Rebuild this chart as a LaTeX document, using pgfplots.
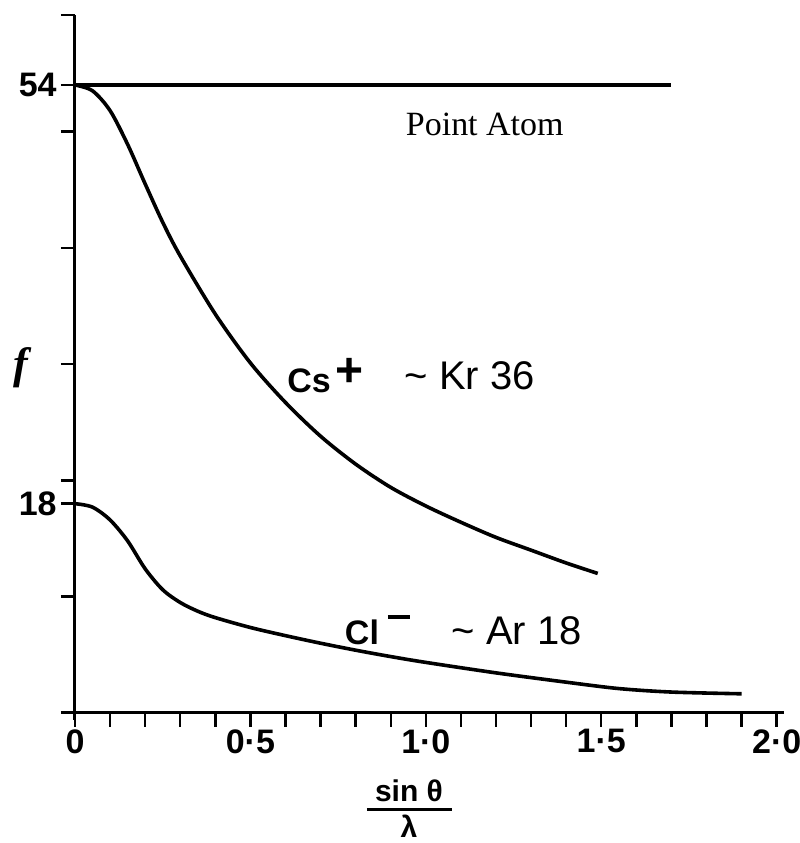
\documentclass[border=0pt]{standalone}
\usepackage{fontspec}
\setmainfont{Liberation Sans}
\newfontfamily\timesfont{Liberation Serif}
\usepackage{pgfplots}
\pgfplotsset{compat=1.18}

\begin{document}
\begin{tikzpicture}
\begin{axis}[
    scale only axis,
    width=361.5pt, height=352.5pt,
    xmin=-0.04, xmax=2.02, ymin=-0.6, ymax=60,
    axis lines=center,
    axis line style={-, line width=1.5pt},
    hide obscured x ticks=false,
    xtick={0,0.5,1,1.5,2},
    xticklabels={0,0·5,1·0,1·5,2·0},
    minor xtick={0.1,0.2,0.3,0.4,0.6,0.7,0.8,0.9,1.1,1.2,1.3,1.4,1.6,1.7,1.8,1.9},
    ytick={10,20,30,40,50,60},
    yticklabels={},
    extra y ticks={18,54},
    extra y tick labels={18,54},
    tick align=outside,
    major tick length=7pt, minor tick length=7pt,
    tick style={line width=1.2pt, black},
    xticklabel style={font=\bfseries\fontsize{17}{17}\selectfont, inner sep=1pt},
    yticklabel style={font=\bfseries\fontsize{17}{17}\selectfont, inner sep=2pt},
    clip=false,
]
% point atom
\addplot[black, line width=2.3pt] coordinates {(0,54) (1.70,54)};
% Cs+
\addplot[black, line width=1.8pt, smooth] coordinates {
  (0,54) (0.05,53.5) (0.10,51.8) (0.15,48.9) (0.20,45.5) (0.25,42.2)
  (0.30,39.3) (0.40,34.3) (0.50,30.1) (0.60,26.7) (0.70,23.8) (0.80,21.4)
  (0.90,19.4) (1.00,17.8) (1.10,16.4) (1.20,15.1) (1.30,14.0) (1.40,12.9)
  (1.49,12.0)
};
% Cl-
\addplot[black, line width=1.8pt, smooth] coordinates {
  (0,18) (0.05,17.7) (0.10,16.6) (0.15,14.8) (0.20,12.4) (0.25,10.6)
  (0.30,9.5) (0.35,8.75) (0.40,8.2) (0.50,7.35) (0.60,6.65) (0.70,6.0)
  (0.80,5.4) (0.90,4.85) (1.00,4.35) (1.20,3.45) (1.40,2.65) (1.55,2.1)
  (1.70,1.8) (1.90,1.65)
};

\node[font=\timesfont\fontsize{17}{17}\selectfont] at (axis cs:1.168,50.6) {Point Atom};
\node[font=\timesfont\bfseries\itshape\fontsize{22}{22}\selectfont] at (axis cs:-0.155,29.7) {f};

\node[font=\bfseries\fontsize{17}{17}\selectfont] at (axis cs:0.667,28.6) {Cs};
\node[font=\bfseries\fontsize{24}{24}\selectfont] at (axis cs:0.783,29.3) {+};
\node[font=\fontsize{20}{20}\selectfont] at (axis cs:1.125,29.0) {\textasciitilde\ Kr 36};

\node[font=\bfseries\fontsize{17}{17}\selectfont] at (axis cs:0.818,6.9) {Cl};
\draw[line width=2.4pt] (axis cs:0.892,8.25) -- (axis cs:0.954,8.25);
\node[font=\fontsize{20}{20}\selectfont] at (axis cs:1.259,7.05) {\textasciitilde\ Ar 18};

\node[font=\bfseries\fontsize{15}{15}\selectfont] at (axis cs:0.952,-6.7) {sin θ};
\draw[line width=1.6pt] (axis cs:0.832,-8.3) -- (axis cs:1.074,-8.3);
\node[font=\bfseries\fontsize{15}{15}\selectfont, inner sep=0pt] at (axis cs:0.952,-9.7) {λ};

\coordinate (bbll) at (axis cs:-0.2137,-11.18);
\coordinate (bbur) at (axis cs:2.0655,61.31);
\end{axis}
\pgfresetboundingbox
\useasboundingbox (bbll) rectangle (bbur);
\end{tikzpicture}
\end{document}
